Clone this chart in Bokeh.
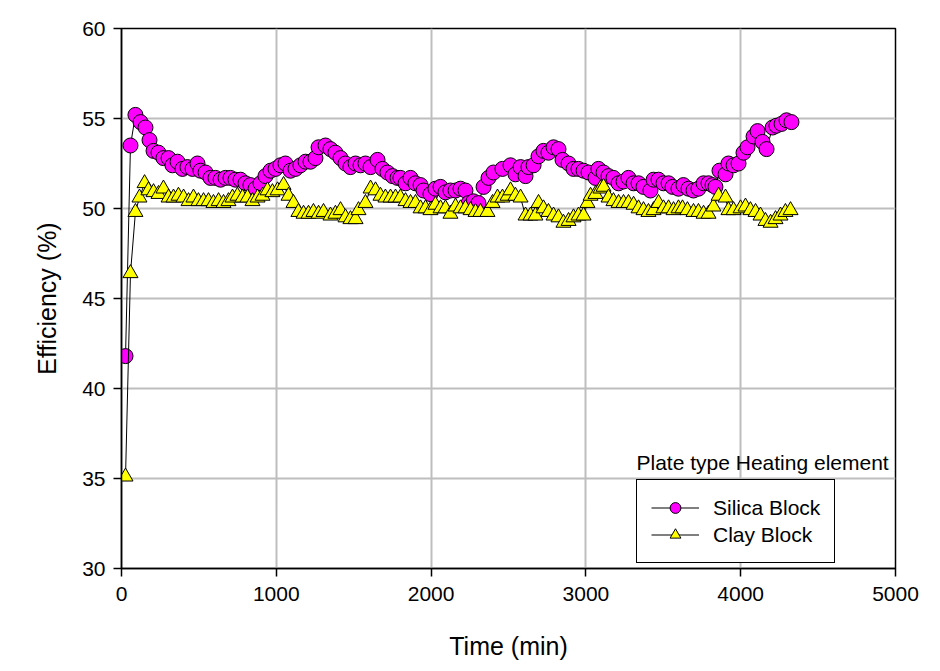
from bokeh.plotting import figure
from bokeh.models import Range1d, Legend, LegendItem, Label, FixedTicker
from bokeh.embed import file_html
from bokeh.resources import INLINE

# ---------------- data ----------------
silica_time = [26, 58, 90, 123, 155, 181, 207, 239, 271, 304, 329, 362, 394, 426, 459, 491, 510, 543,
               575, 607, 640, 672, 704, 736, 769, 801, 833, 866, 898, 930, 963, 995, 1027, 1059, 1092,
               1124, 1156, 1189, 1221, 1253, 1273, 1318, 1350, 1382, 1415, 1447, 1479, 1512, 1544, 1576,
               1609, 1654, 1686, 1718, 1751, 1783, 1802, 1835, 1867, 1899, 1932, 1951, 1996, 2028, 2061,
               2093, 2125, 2158, 2190, 2222, 2242, 2274, 2306, 2339, 2371, 2403, 2461, 2513, 2545, 2578,
               2610, 2629, 2662, 2694, 2726, 2758, 2791, 2823, 2849, 2888, 2920, 2952, 2985, 3017, 3062,
               3081, 3114, 3146, 3178, 3211, 3243, 3275, 3308, 3340, 3372, 3417, 3437, 3469, 3501, 3534,
               3560, 3598, 3630, 3663, 3695, 3727, 3760, 3792, 3818, 3837, 3863, 3902, 3921, 3954, 3986,
               4018, 4044, 4083, 4109, 4141, 4167, 4206, 4231, 4264, 4296, 4328]
silica_eff = [41.8, 53.5, 55.2, 54.8, 54.5, 53.8, 53.2, 53.1, 52.8, 52.8, 52.4, 52.6, 52.2, 52.3, 52.2,
              52.5, 52.1, 52.0, 51.7, 51.7, 51.6, 51.7, 51.7, 51.6, 51.6, 51.4, 51.3, 51.1, 51.4, 51.8,
              52.1, 52.2, 52.4, 52.5, 52.1, 52.2, 52.4, 52.6, 52.6, 52.8, 53.4, 53.5, 53.3, 53.1, 52.8,
              52.5, 52.3, 52.5, 52.4, 52.5, 52.3, 52.7, 52.2, 52.0, 51.8, 51.7, 51.7, 51.4, 51.7, 51.4,
              51.3, 51.0, 50.8, 51.1, 51.2, 50.9, 51.0, 51.0, 51.1, 51.0, 50.3, 50.4, 50.3, 51.2, 51.7,
              52.0, 52.2, 52.4, 51.9, 52.3, 51.8, 52.3, 52.4, 52.9, 53.2, 53.1, 53.4, 53.3, 52.7, 52.5,
              52.2, 52.2, 52.1, 52.0, 51.7, 52.2, 52.0, 51.8, 51.7, 51.4, 51.5, 51.7, 51.4, 51.4, 51.2,
              51.0, 51.6, 51.6, 51.4, 51.4, 51.2, 51.1, 51.3, 51.1, 51.0, 51.1, 51.4, 51.4, 51.3, 51.2,
              52.1, 51.9, 52.5, 52.4, 52.5, 53.1, 53.4, 54.0, 54.3, 53.7, 53.3, 54.5, 54.6, 54.7, 54.9,
              54.8]

clay_time = [26, 58, 90, 116, 149, 174, 207, 239, 271, 304, 336, 368, 401, 433, 465, 497, 530, 562,
             594, 627, 659, 691, 717, 749, 782, 814, 846, 879, 911, 943, 975, 1008, 1047, 1079, 1111,
             1143, 1176, 1208, 1240, 1273, 1305, 1350, 1382, 1415, 1447, 1479, 1512, 1531, 1576, 1609,
             1641, 1673, 1705, 1738, 1770, 1802, 1835, 1867, 1899, 1932, 1964, 1996, 2028, 2061, 2093,
             2125, 2158, 2190, 2222, 2255, 2287, 2319, 2364, 2397, 2429, 2461, 2494, 2513, 2545, 2578,
             2610, 2642, 2674, 2694, 2726, 2758, 2791, 2823, 2855, 2888, 2920, 2952, 2985, 3010, 3030,
             3062, 3094, 3114, 3146, 3178, 3211, 3243, 3275, 3308, 3340, 3372, 3404, 3437, 3469, 3501,
             3534, 3566, 3598, 3624, 3656, 3695, 3727, 3760, 3792, 3824, 3857, 3902, 3921, 3954, 3999,
             4031, 4063, 4096, 4128, 4160, 4193, 4225, 4257, 4289, 4322]
clay_eff = [35.1, 46.4, 49.8, 50.6, 51.4, 51.0, 50.9, 50.8, 51.1, 50.6, 50.6, 50.7, 50.6, 50.4, 50.6,
            50.4, 50.4, 50.4, 50.3, 50.4, 50.3, 50.4, 50.6, 50.7, 50.6, 50.6, 50.4, 50.6, 50.7, 51.0,
            50.9, 51.0, 51.3, 50.7, 50.3, 49.8, 49.7, 49.7, 49.8, 49.7, 49.8, 49.6, 49.7, 49.9, 49.5,
            49.4, 49.4, 49.9, 50.3, 51.1, 51.0, 50.7, 50.6, 50.6, 50.6, 50.6, 50.4, 50.3, 50.3, 50.0,
            50.0, 49.9, 50.2, 50.0, 50.0, 49.7, 50.1, 50.0, 50.0, 49.9, 49.8, 49.8, 49.8, 50.3, 50.6,
            50.6, 50.7, 51.0, 50.7, 50.6, 49.6, 49.6, 49.6, 50.3, 50.0, 49.8, 49.6, 49.5, 49.2, 49.3,
            49.5, 49.6, 49.6, 50.3, 50.7, 50.8, 51.1, 51.2, 50.6, 50.4, 50.3, 50.3, 50.3, 50.2, 50.0,
            49.9, 49.8, 49.9, 50.3, 50.0, 50.0, 49.9, 50.0, 50.0, 49.9, 49.8, 49.8, 49.7, 49.7, 50.1,
            50.7, 50.6, 49.9, 49.9, 50.0, 50.1, 49.9, 49.8, 49.6, 49.3, 49.2, 49.4, 49.6, 49.8, 49.9]

x_ticks = [0, 1000, 2000, 3000, 4000, 5000]
y_ticks = [30, 35, 40, 45, 50, 55, 60]
series_names = ["Silica Block", "Clay Block"]
legend_title = "Plate type Heating element"

FONT = "Liberation Sans"

p = figure(width=932, height=663, output_backend="svg", toolbar_location=None,
           x_range=Range1d(0, 5000), y_range=Range1d(30, 60),
           min_border_left=121, min_border_right=37, min_border_top=28, min_border_bottom=95)

p.outline_line_color = "black"
p.outline_line_width = 1.5
p.background_fill_color = "white"
p.border_fill_color = "white"

for ax in (p.xaxis[0], p.yaxis[0]):
    ax.axis_line_color = "black"
    ax.axis_line_width = 1.5
    ax.major_tick_line_color = "black"
    ax.major_tick_line_width = 1.5
    ax.major_tick_in = 0
    ax.major_tick_out = 8
    ax.minor_tick_line_color = None
    ax.major_label_text_font = FONT
    ax.major_label_text_font_size = "21px"
    ax.major_label_text_color = "black"
    ax.axis_label_text_font = FONT
    ax.axis_label_text_font_size = "25px"
    ax.axis_label_text_font_style = "normal"
    ax.axis_label_text_color = "black"

p.xaxis.ticker = FixedTicker(ticks=x_ticks)
p.yaxis.ticker = FixedTicker(ticks=y_ticks)
p.xaxis.axis_label = "Time (min)"
p.yaxis.axis_label = "Efficiency (%)"
p.xaxis.major_label_standoff = 10
p.yaxis.major_label_standoff = 8
p.xaxis.axis_label_standoff = 28
p.yaxis.axis_label_standoff = 18

p.grid.grid_line_color = "#BEBEBE"
p.grid.grid_line_width = 2

# Silica
l1 = p.line(silica_time, silica_eff, line_color="black", line_width=1)
s1 = p.scatter(silica_time, silica_eff, marker="circle", size=15,
               fill_color="#FF00FF", line_color="black", line_width=1)
# Clay
l2 = p.line(clay_time, clay_eff, line_color="black", line_width=1)
s2 = p.scatter(clay_time, clay_eff, marker="triangle", size=15,
               fill_color="#FFFF00", line_color="black", line_width=1)

legend = Legend(items=[LegendItem(label=series_names[0], renderers=[l1, s1]),
                       LegendItem(label=series_names[1], renderers=[l2, s2])],
                location=(515, 5), orientation="vertical",
                label_text_font=FONT, label_text_font_size="21px", label_text_color="black",
                glyph_width=48, glyph_height=27, label_height=27, spacing=0,
                padding=14, margin=0, border_line_color="black", border_line_width=1.5,
                border_line_alpha=1.0,
                background_fill_color="white", background_fill_alpha=1.0,
                label_standoff=14)
p.add_layout(legend, "center")

p.add_layout(Label(x=3327, y=35.9, text=legend_title, text_font=FONT,
                   text_font_size="21px", text_baseline="middle", text_align="left",
                   text_color="black"))

open("out.html", "w").write(file_html(p, INLINE))
